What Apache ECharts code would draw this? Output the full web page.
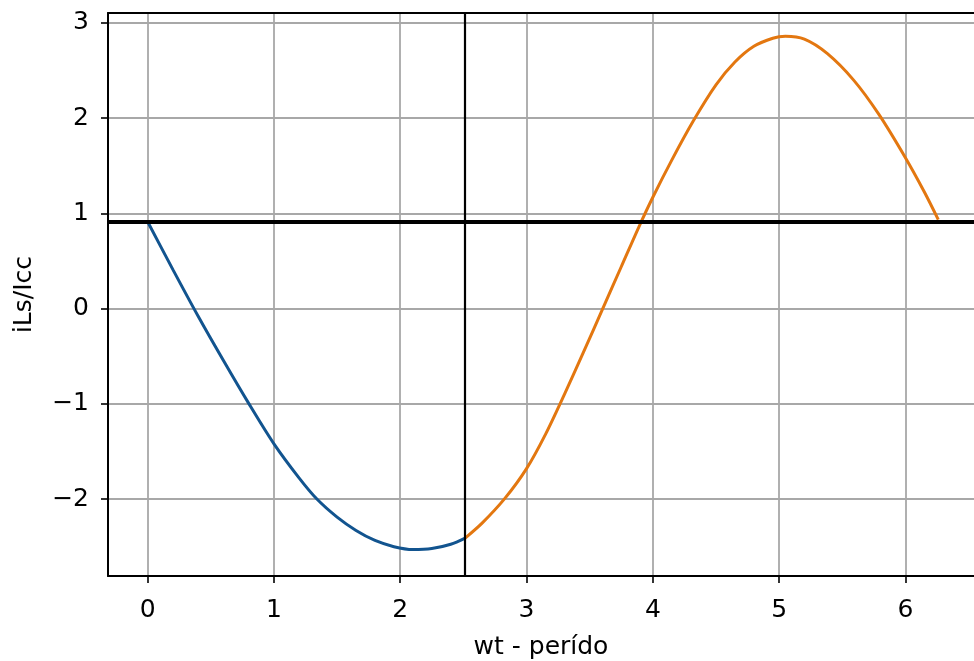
<!DOCTYPE html>
<html>
<head>
<meta charset="utf-8">
<script src="https://cdn.jsdelivr.net/npm/echarts@6/dist/echarts.min.js"></script>
<style>
html,body{margin:0;padding:0;background:#fff;}
#c{width:974px;height:661px;}
</style>
</head>
<body>
<div id="c"></div>
<script>
// ---- data ----
const xTicks = [0, 1, 2, 3, 4, 5, 6];
const yTicks = [-2, -1, 0, 1, 2, 3];
const xLimits = [-0.314, 6.543];   // visible part of the x range (plot is cut at the right edge)
const yLimits = [-2.808, 3.105];

const blueX = [0, 0.2, 0.4, 0.6, 0.8, 1.0, 1.2, 1.34, 1.5, 1.65, 1.8, 1.95, 2.1, 2.25, 2.4, 2.514];
const blueY = [0.913, 0.41, -0.08, -0.545, -0.995, -1.42, -1.78, -2.0, -2.19, -2.33, -2.435, -2.50, -2.53, -2.52, -2.475, -2.41];

const orangeX = [2.514, 2.65, 2.83, 3.0, 3.15, 3.3, 3.45, 3.6, 3.75, 3.89, 4.0, 4.15, 4.32, 4.5, 4.65, 4.8, 4.95, 5.05, 5.2, 5.38, 5.59, 5.79, 6.0, 6.15, 6.26];
const orangeY = [-2.41, -2.25, -1.99, -1.68, -1.32, -0.90, -0.46, -0.01, 0.44, 0.86, 1.17, 1.56, 1.97, 2.35, 2.59, 2.755, 2.84, 2.86, 2.83, 2.68, 2.40, 2.04, 1.585, 1.225, 0.935];

const hLineY = 0.913;
const vLineX = 2.514;

const xName = 'wt - perído';
const yName = 'iLs/Icc';

// ---- build chart ----
const zip = (xs, ys) => xs.map((x, i) => [x, ys[i]]);
const fmt = v => String(v).replace('-', '\u2212');
const FONT = 'DejaVu Sans';
const FS = 25;
const spine = {show: true, onZero: false, lineStyle: {color: '#000', width: 2}};
const grid = {show: true, lineStyle: {color: '#a8a8a8', width: 1.8}};
const tick = vals => ({show: true, inside: false, length: 7, customValues: vals, lineStyle: {color: '#000', width: 1.6}});

const chart = echarts.init(document.getElementById('c'), null, {renderer: 'canvas'});
chart.setOption({
  animation: false,
  backgroundColor: '#ffffff',
  grid: {left: 108, top: 13, right: 0, bottom: 85, show: false, containLabel: false, outerBoundsMode: 'none'},
  xAxis: [
    {
      type: 'value', position: 'bottom',
      min: xLimits[0], max: xLimits[1],
      name: xName, nameLocation: 'middle', nameGap: 59,
      nameTextStyle: {fontFamily: FONT, fontSize: FS, color: '#000'},
      axisLine: spine,
      axisTick: tick(xTicks),
      axisLabel: {customValues: xTicks, formatter: fmt, margin: 22, fontFamily: FONT, fontSize: FS, color: '#000'},
      splitLine: grid
    },
    {
      type: 'value', position: 'top',
      min: xLimits[0], max: xLimits[1],
      axisLine: spine, axisTick: {show: false}, axisLabel: {show: false}, splitLine: {show: false}
    }
  ],
  yAxis: {
    type: 'value',
    min: yLimits[0], max: yLimits[1],
    name: yName, nameLocation: 'middle', nameGap: 71, nameRotate: 90,
    nameTextStyle: {fontFamily: FONT, fontSize: FS, color: '#000'},
    axisLine: spine,
    axisTick: tick(yTicks),
    axisLabel: {customValues: yTicks, formatter: fmt, margin: 19, fontFamily: FONT, fontSize: FS, color: '#000'},
    splitLine: grid
  },
  series: [
    {
      type: 'line', data: zip(blueX, blueY), smooth: 0.3, showSymbol: false, silent: true,
      lineStyle: {color: '#12548f', width: 3}, z: 3
    },
    {
      type: 'line', data: zip(orangeX, orangeY), smooth: 0.3, showSymbol: false, silent: true,
      lineStyle: {color: '#e37710', width: 3}, z: 3
    },
    {
      type: 'line', data: [], silent: true, z: 4,
      markLine: {
        silent: true, symbol: 'none', animation: false,
        label: {show: false},
        data: [
          {yAxis: hLineY, lineStyle: {color: '#000', width: 3.8, type: 'solid'}},
          {xAxis: vLineX, lineStyle: {color: '#000', width: 2.2, type: 'solid'}}
        ]
      }
    }
  ]
});
</script>
</body>
</html>
